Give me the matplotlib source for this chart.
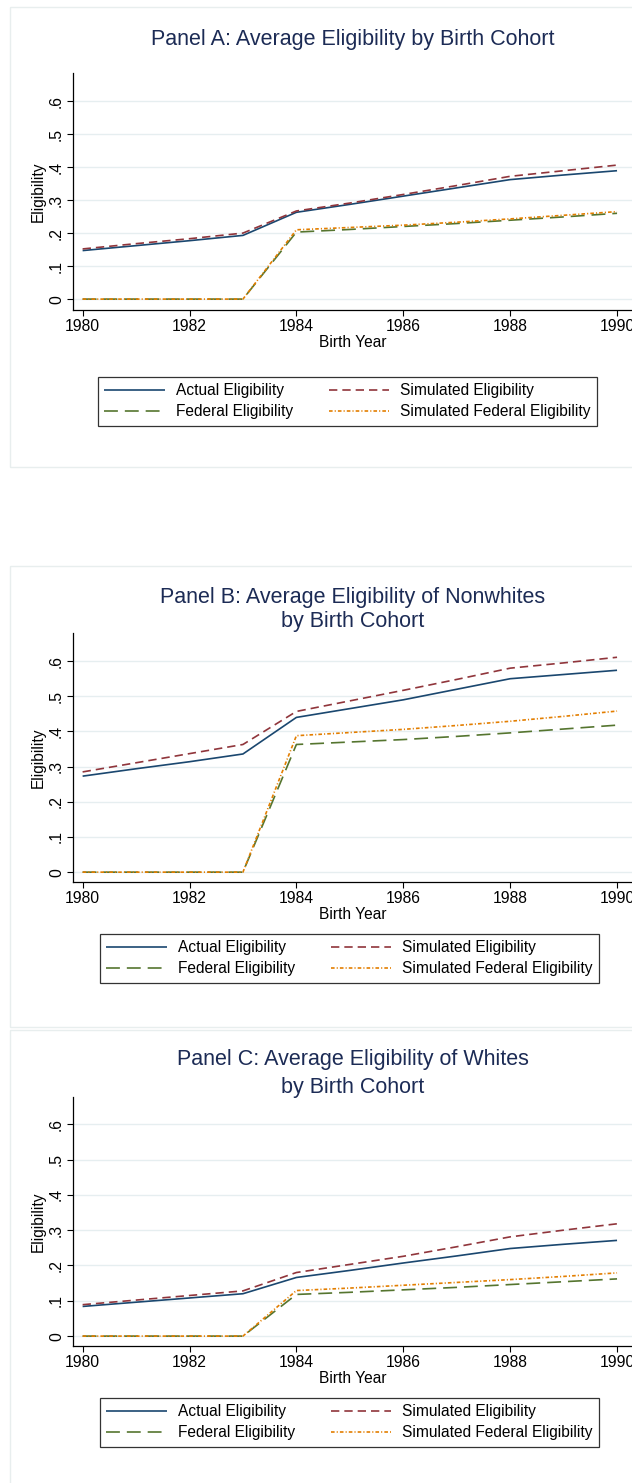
import matplotlib
matplotlib.use("Agg")
import matplotlib.pyplot as plt
from matplotlib.patches import Rectangle

plt.rcParams['font.family'] = ['Liberation Sans', 'DejaVu Sans']
plt.rcParams['lines.scale_dashes'] = False

years = [1980, 1981, 1982, 1983, 1984, 1985, 1986, 1987, 1988, 1989, 1990]

# Panel A: all
a_actual = [0.147, 0.162, 0.177, 0.193, 0.263, 0.287, 0.312, 0.337, 0.362, 0.376, 0.389]
a_sim    = [0.152, 0.168, 0.183, 0.200, 0.267, 0.291, 0.317, 0.344, 0.372, 0.389, 0.406]
a_fed    = [0.0, 0.0, 0.0, 0.0, 0.203, 0.211, 0.220, 0.229, 0.239, 0.249, 0.260]
a_simfed = [0.0, 0.0, 0.0, 0.0, 0.210, 0.217, 0.224, 0.233, 0.243, 0.254, 0.265]

# Panel B: nonwhites
b_actual = [0.273, 0.294, 0.314, 0.336, 0.440, 0.465, 0.490, 0.520, 0.550, 0.562, 0.574]
b_sim    = [0.285, 0.311, 0.337, 0.363, 0.457, 0.487, 0.517, 0.548, 0.580, 0.595, 0.611]
b_fed    = [0.0, 0.0, 0.0, 0.0, 0.363, 0.370, 0.377, 0.386, 0.396, 0.407, 0.418]
b_simfed = [0.0, 0.0, 0.0, 0.0, 0.388, 0.397, 0.406, 0.417, 0.429, 0.443, 0.458]

# Panel C: whites
c_actual = [0.084, 0.096, 0.108, 0.120, 0.166, 0.186, 0.207, 0.227, 0.248, 0.260, 0.271]
c_sim    = [0.089, 0.102, 0.115, 0.128, 0.180, 0.203, 0.226, 0.253, 0.281, 0.300, 0.318]
c_fed    = [0.0, 0.0, 0.0, 0.0, 0.118, 0.124, 0.131, 0.138, 0.146, 0.154, 0.162]
c_simfed = [0.0, 0.0, 0.0, 0.0, 0.129, 0.136, 0.144, 0.152, 0.160, 0.169, 0.179]

series_labels = ["Actual Eligibility", "Simulated Eligibility",
                 "Federal Eligibility", "Simulated Federal Eligibility"]
xticks = [1980, 1982, 1984, 1986, 1988, 1990]
yticks = [0, 0.1, 0.2, 0.3, 0.4, 0.5, 0.6]
ytick_labels = ["0", ".1", ".2", ".3", ".4", ".5", ".6"]

titles = [["Panel A: Average Eligibility by Birth Cohort"],
          ["Panel B: Average Eligibility of Nonwhites", "by Birth Cohort"],
          ["Panel C: Average Eligibility of Whites", "by Birth Cohort"]]

W, H = 632, 1483
fig = plt.figure(figsize=(W / 100, H / 100), dpi=100)
fig.patch.set_facecolor('white')

NAVY = '#1a476f'
MAROON = '#90353b'
GREEN = '#55752f'
ORANGE = '#e37e00'
TITLE_C = '#1c2b55'
GRID_C = '#e6eef0'
FRAME_C = '#e8eeee'

TICK_FS = 11.3
LAB_FS = 11.2
LEG_FS = 11.2
TITLE_FS = 15.5

styles = [dict(color=NAVY, lw=1.2, linestyle='-'),
          dict(color=MAROON, lw=1.2, linestyle=(0, (6.0, 3.6))),
          dict(color=GREEN, lw=1.2, linestyle=(0, (10.0, 5.0))),
          dict(color=ORANGE, lw=1.2, linestyle=(0, (2.6, 1.5, 0.8, 1.5)))]


def fx(px):
    return px / W


def fy(py):
    return 1 - py / H


panels = [
    dict(frame=(10, 7, 640, 467), ax=(73, 73, 632, 310), ylim=(-0.033, 0.685),
         title_y=[39], legend=(98, 377),
         data=[a_actual, a_sim, a_fed, a_simfed]),
    dict(frame=(10, 566, 640, 1027), ax=(73, 633, 632, 882), ylim=(-0.028, 0.68),
         title_y=[597, 622], legend=(100, 934),
         data=[b_actual, b_sim, b_fed, b_simfed]),
    dict(frame=(10, 1030, 640, 1495), ax=(73, 1097, 632, 1346), ylim=(-0.028, 0.677),
         title_y=[1060, 1087], legend=(100, 1398),
         data=[c_actual, c_sim, c_fed, c_simfed]),
]

for i, p in enumerate(panels):
    l, t, r, b = p['frame']
    fig.patches.append(Rectangle((fx(l), fy(b)), fx(r) - fx(l), fy(t) - fy(b),
                                 transform=fig.transFigure, fill=False,
                                 edgecolor=FRAME_C, lw=1.0, zorder=0))
    l, t, r, b = p['ax']
    ax = fig.add_axes([fx(l), fy(b), fx(r) - fx(l), fy(t) - fy(b)])
    ax.set_facecolor('white')
    ax.set_xlim(1979.82, 1990.28)
    ax.set_ylim(*p['ylim'])
    for s in ['top', 'right']:
        ax.spines[s].set_visible(False)
    for s in ['left', 'bottom']:
        ax.spines[s].set_color('black')
        ax.spines[s].set_linewidth(0.9)
    ax.set_yticks(yticks)
    ax.set_yticklabels(ytick_labels, rotation=90, va='center', fontsize=TICK_FS)
    ax.set_xticks(xticks)
    ax.set_xticklabels([str(v) for v in xticks], fontsize=TICK_FS)
    ax.tick_params(axis='both', direction='out', length=4, width=0.8, color='black', pad=2.5)
    ax.yaxis.grid(True, color=GRID_C, lw=1.0)
    ax.set_axisbelow(True)
    ax.set_xlabel("Birth Year", fontsize=LAB_FS, labelpad=1)
    ax.set_ylabel("Eligibility", fontsize=LAB_FS, labelpad=2)

    handles = []
    for d, st, lab in zip(p['data'], styles, series_labels):
        ln, = ax.plot(years, d, label=lab, solid_capstyle='butt', dash_capstyle='butt', **st)
        handles.append(ln)

    for line_text, ty in zip(titles[i], p['title_y']):
        fig.text(fx(353), fy(ty), line_text, ha='center', va='center',
                 fontsize=TITLE_FS, color=TITLE_C)

    ll, lt = p['legend']
    order = [handles[0], handles[2], handles[1], handles[3]]
    labs = [series_labels[0], series_labels[2], series_labels[1], series_labels[3]]
    leg = fig.legend(order, labs, loc='upper left',
                     bbox_to_anchor=(fx(ll), fy(lt)), bbox_transform=fig.transFigure,
                     ncol=2, fontsize=LEG_FS, frameon=True, fancybox=False,
                     handlelength=3.9, handletextpad=0.7, columnspacing=2.3,
                     labelspacing=0.4, borderpad=0.4, borderaxespad=0)
    leg.get_frame().set_edgecolor('black')
    leg.get_frame().set_linewidth(0.9)

fig.savefig("out.png", dpi=100, facecolor='white')
